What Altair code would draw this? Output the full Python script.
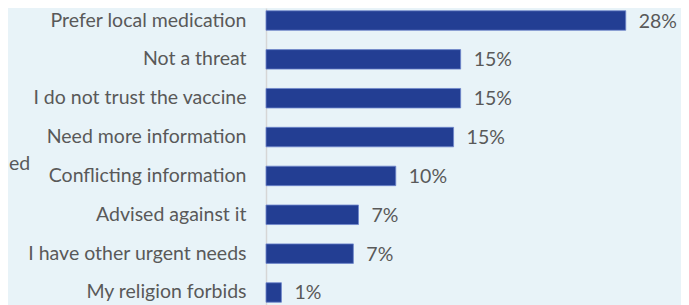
import altair as alt
import pandas as pd

categories = [
    "Prefer local medication",
    "Not a threat",
    "I do not trust the vaccine",
    "Need more information",
    "Conflicting information",
    "Advised against it",
    "I have other urgent needs",
    "My religion forbids",
]
values = [28.0, 15.15, 15.15, 14.6, 10.1, 7.2, 6.8, 1.2]
side_text = ["ed"]

FONT = "Lato"
FS = 19.5
TEXT_COLOR = "#595959"
BAR_COLOR = "#233E93"
BG = "#E8F3F8"

df = pd.DataFrame({"reason": categories, "pct": values})

base = alt.Chart(df).transform_calculate(frac="datum.pct / 100")

y_enc = alt.Y(
    "reason:N",
    sort=categories,
    title=None,
    scale=alt.Scale(paddingInner=0.498, paddingOuter=0.071),
    axis=alt.Axis(
        ticks=False,
        domain=True,
        domainColor="#d6d6d6",
        domainWidth=1.5,
        labelFont=FONT,
        labelFontSize=FS,
        labelColor=TEXT_COLOR,
        labelPadding=20,
        labelLimit=400,
        grid=False,
    ),
)
x_enc = alt.X("pct:Q", axis=None, scale=alt.Scale(domain=[0, 32.3], nice=False))

bars = base.mark_bar(color=BAR_COLOR, stroke="#6f86cc", strokeWidth=0.8).encode(
    x=x_enc, y=y_enc
)

labels = base.mark_text(
    align="left", baseline="middle", dx=13, dy=1, font=FONT, fontSize=FS, color=TEXT_COLOR
).encode(x=x_enc, y=alt.Y("reason:N", sort=categories), text=alt.Text("frac:Q", format=".0%"))

side = alt.Chart(pd.DataFrame({"t": side_text})).mark_text(
    align="left", baseline="alphabetic", font=FONT, fontSize=FS, color=TEXT_COLOR
).encode(x=alt.value(-257), y=alt.value(162), text="t:N")

chart = (
    alt.layer(bars, labels, side)
    .properties(
        width=415,
        height=297,
        background=BG,
        padding={"left": 258, "top": 0, "right": 0, "bottom": 0},
        autosize=alt.AutoSizeParams(type="none"),
    )
    .configure_view(stroke=None)
)

chart.save("out.html", embed_options={"renderer": "svg", "actions": False})
